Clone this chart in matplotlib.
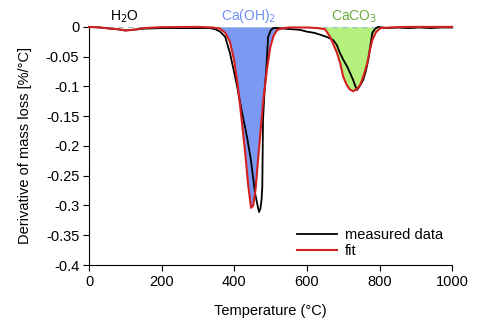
import matplotlib.pyplot as plt
import numpy as np

plt.rcParams['font.family'] = ['Liberation Sans', 'DejaVu Sans']

# measured derivative of mass loss
temp_meas = [0, 30, 60, 80, 100, 120, 150, 200, 250, 300, 333, 348, 361, 375, 388,
             398, 408, 420, 435, 446, 457, 464, 468, 472, 475, 477, 479, 483,
             488, 493, 500, 507, 520, 540, 560, 581, 600, 620, 636, 655, 672,
             682, 691, 700, 711, 720, 727, 733, 738, 745, 755, 762, 769, 775,
             780, 788, 796, 820, 850, 880, 910, 940, 970, 1000]
dtg_meas = [0, -0.001, -0.003, -0.004, -0.006, -0.005, -0.003, -0.002, -0.002,
            -0.002, -0.002, -0.004, -0.008, -0.017, -0.044, -0.072, -0.101,
            -0.140, -0.185, -0.225, -0.279, -0.300, -0.311, -0.305, -0.290,
            -0.269, -0.156, -0.110, -0.072, -0.017, -0.006, -0.002, -0.002,
            -0.003, -0.004, -0.005, -0.008, -0.010, -0.013, -0.017, -0.022,
            -0.030, -0.044, -0.055, -0.067, -0.079, -0.089, -0.099, -0.106,
            -0.100, -0.089, -0.075, -0.055, -0.030, -0.010, -0.003, 0.0,
            -0.002, -0.001, -0.002, -0.001, -0.002, -0.001, -0.001]

# fitted curve
temp_fit = [0, 30, 60, 80, 100, 120, 150, 200, 300, 340, 361, 375, 388, 400,
            410, 420, 430, 438, 446, 452, 458, 463, 470, 479, 489, 499, 508,
            518, 535, 550, 600, 630, 650, 664, 683, 692, 700, 710, 718, 727,
            737, 747, 756, 766, 773, 780, 790, 802, 830, 870, 1000]
dtg_fit = [0, -0.001, -0.003, -0.004, -0.006, -0.005, -0.002, -0.0005, 0,
           -0.001, -0.003, -0.010, -0.025, -0.058, -0.101, -0.155, -0.212,
           -0.265, -0.304, -0.300, -0.275, -0.240, -0.190, -0.128, -0.075,
           -0.034, -0.015, -0.005, -0.002, -0.001, -0.001, -0.002, -0.004,
           -0.017, -0.044, -0.062, -0.084, -0.098, -0.105, -0.108, -0.105,
           -0.097, -0.082, -0.061, -0.040, -0.022, -0.009, -0.002, -0.001,
           0, 0]

peak_ranges = {'Ca(OH)$_2$': (340, 535), 'CaCO$_3$': (630, 830)}
fill_colors = ['#7b98f2', '#b6f07c']

fig = plt.figure(figsize=(4.79, 3.24), dpi=100)
ax = fig.add_axes([0.186, 0.182, 0.758, 0.735])

tf = np.array(temp_fit)
vf = np.array(dtg_fit)
for (name, (lo, hi)), c in zip(peak_ranges.items(), fill_colors):
    m = (tf >= lo) & (tf <= hi)
    ax.fill_between(tf[m], vf[m], 0, color=c, lw=0)

ax.axhline(0, color='#9fc4c8', lw=1, ls=(0, (4, 3)), zorder=1)
ax.plot(temp_meas, dtg_meas, color='black', lw=1.3, label='measured data', clip_on=False, zorder=3)
ax.plot(temp_fit, dtg_fit, color='#d42020', lw=1.5, label='fit', clip_on=False, zorder=4)

ax.text(97, 0.004, 'H$_2$O', color='black', fontsize=10, ha='center', va='bottom')
ax.text(440, 0.004, 'Ca(OH)$_2$', color='#6f8ff0', fontsize=10, ha='center', va='bottom')
ax.text(730, 0.004, 'CaCO$_3$', color='#6aaa3a', fontsize=10, ha='center', va='bottom')

ax.set_xlim(0, 1000)
ax.set_ylim(-0.4, 0)
ax.set_xticks(np.arange(0, 1001, 200))
ax.set_yticks(np.arange(-0.4, 0.001, 0.05))
ax.set_yticklabels(['-0.4', '-0.35', '-0.3', '-0.25', '-0.2', '-0.15', '-0.1', '-0.05', '0'])
ax.spines['top'].set_visible(False)
ax.spines['right'].set_visible(False)
ax.tick_params(direction='out', length=4, labelsize=10.5, pad=3)
ax.set_xlabel('Temperature (°C)', fontsize=10.5, labelpad=11)
ax.set_ylabel('Derivative of mass loss [%/°C]', fontsize=10.5, labelpad=10)
ax.legend(loc='lower left', frameon=False, fontsize=10.5, handlelength=2.7,
          handletextpad=0.6, labelspacing=0.15, borderpad=0, borderaxespad=0,
          bbox_to_anchor=(0.573, 0.03))

fig.savefig('out.png', dpi=100)
